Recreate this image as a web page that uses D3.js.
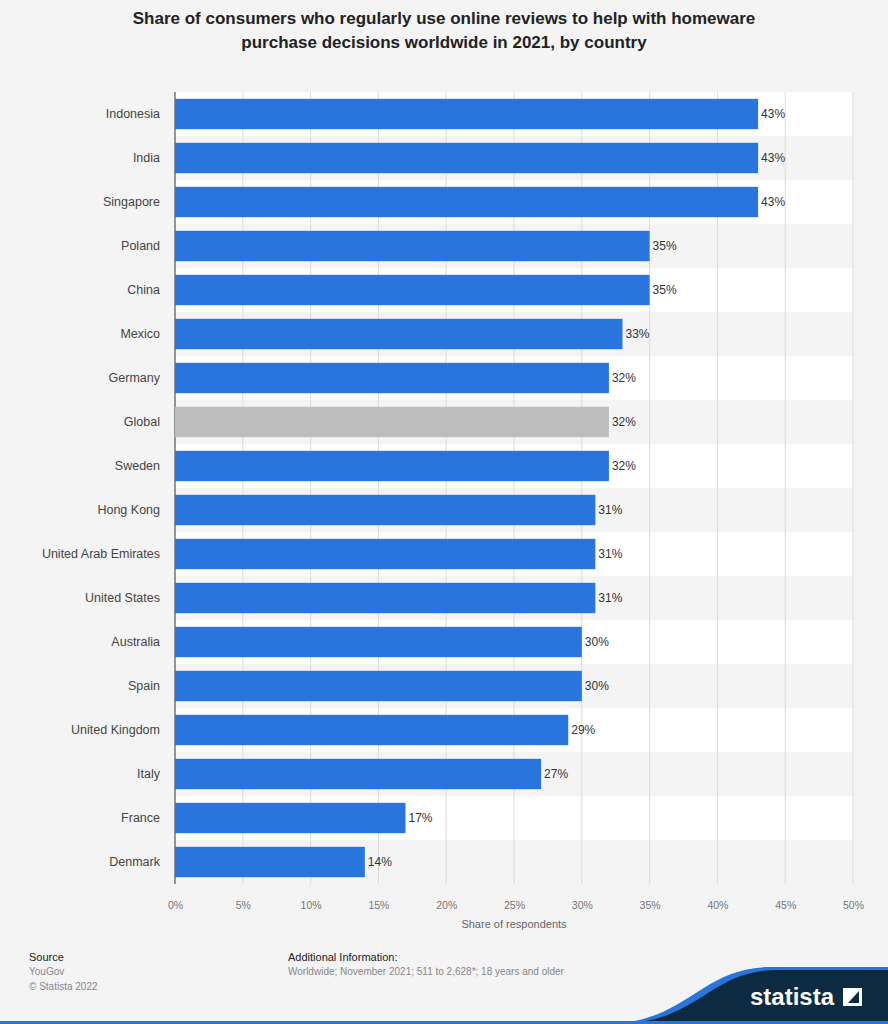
<!DOCTYPE html>
<html><head><meta charset="utf-8">
<script src="https://cdn.jsdelivr.net/npm/d3@7"></script>
<style>body{margin:0;background:#f4f4f4;font-family:"Liberation Sans",Arial,sans-serif}</style>
</head><body>
<script>
var countries = ["Indonesia","India","Singapore","Poland","China","Mexico","Germany","Global","Sweden","Hong Kong","United Arab Emirates","United States","Australia","Spain","United Kingdom","Italy","France","Denmark"];
var shares = [43,43,43,35,35,33,32,32,32,31,31,31,30,30,29,27,17,14];
var ticks = [0,5,10,15,20,25,30,35,40,45,50];

var width = 888, height = 1024;
var plotLeft = 175, plotRight = 853, plotTop = 92, plotBottom = 884;

var svg = d3.select("body").append("svg").attr("width", width).attr("height", height);
svg.append("rect").attr("width", width).attr("height", height).attr("fill", "#f4f4f4");

// title
svg.append("text").attr("x", width/2).attr("y", 24).attr("text-anchor", "middle")
  .attr("font-size", 17).attr("font-weight", "bold").attr("fill", "#222")
  .selectAll("tspan").data(["Share of consumers who regularly use online reviews to help with homeware","purchase decisions worldwide in 2021, by country"])
  .enter().append("tspan").attr("x", width/2).attr("dy", function(d,i){ return i ? 24 : 0; }).text(function(d){ return d; });

var x = d3.scaleLinear().domain([0,50]).range([plotLeft, plotRight]);
var y = d3.scaleBand().domain(countries).range([plotTop, plotBottom]).paddingInner(0.31).paddingOuter(0.155);
var band = d3.scaleBand().domain(countries).range([plotTop, plotBottom]);

// row stripes
svg.selectAll(".row").data(countries).enter().append("rect").attr("class", "row")
  .attr("x", plotLeft).attr("y", function(d){ return band(d); })
  .attr("width", plotRight-plotLeft).attr("height", band.bandwidth())
  .attr("fill", function(d,i){ return i%2 ? "#f4f4f4" : "#ffffff"; });

// grid
svg.selectAll(".grid").data(ticks.slice(1)).enter().append("line").attr("class", "grid")
  .attr("x1", function(d){ return x(d); }).attr("x2", function(d){ return x(d); })
  .attr("y1", plotTop).attr("y2", plotBottom).attr("stroke", "#dcdcdc");

svg.append("line").attr("x1", plotLeft).attr("x2", plotLeft).attr("y1", plotTop).attr("y2", plotBottom).attr("stroke", "#333");

// bars
svg.selectAll(".bar").data(countries).enter().append("rect").attr("class", "bar")
  .attr("x", plotLeft).attr("y", function(d){ return y(d); })
  .attr("width", function(d,i){ return x(shares[i]) - plotLeft; })
  .attr("height", y.bandwidth())
  .attr("fill", function(d){ return d === "Global" ? "#bdbdbd" : "#2876dd"; });

svg.selectAll(".val").data(countries).enter().append("text").attr("class", "val")
  .attr("x", function(d,i){ return x(shares[i]) + 3; })
  .attr("y", function(d){ return y(d) + y.bandwidth()/2 + 4; })
  .attr("font-size", 12).attr("fill", "#333")
  .text(function(d,i){ return shares[i] + "%"; });

svg.selectAll(".cat").data(countries).enter().append("text").attr("class", "cat")
  .attr("x", plotLeft - 15).attr("y", function(d){ return band(d) + band.bandwidth()/2 + 4; })
  .attr("text-anchor", "end").attr("font-size", 12.5).attr("fill", "#444")
  .text(function(d){ return d; });

// x axis
var ax = svg.append("g").attr("transform", "translate(0," + plotBottom + ")")
  .call(d3.axisBottom(x).tickValues(ticks).tickSize(0).tickPadding(18).tickFormat(function(d){ return d + "%"; }));
ax.select(".domain").remove();
ax.selectAll("text").attr("font-size", 10.5).attr("fill", "#777").attr("font-family", "Liberation Sans, Arial");

svg.append("text").attr("x", (plotLeft+plotRight)/2).attr("y", 928).attr("text-anchor", "middle")
  .attr("font-size", 11).attr("fill", "#666").text("Share of respondents");

// footer
svg.append("text").attr("x", 29).attr("y", 961).attr("font-size", 11).attr("fill", "#222").text("Source");
svg.append("text").attr("x", 29).attr("y", 975).attr("font-size", 10).attr("fill", "#888").text("YouGov");
svg.append("text").attr("x", 29).attr("y", 990).attr("font-size", 10).attr("fill", "#888").text("© Statista 2022");
svg.append("text").attr("x", 288).attr("y", 961).attr("font-size", 11).attr("fill", "#222").text("Additional Information:");
svg.append("text").attr("x", 288).attr("y", 975).attr("font-size", 10).attr("fill", "#888").text("Worldwide; November 2021; 511 to 2,628*; 18 years and older");

svg.append("path").attr("d", "M610,1024 C690,1020 700,968 770,967 L888,967 L888,1024 Z").attr("fill", "#2876dd");
svg.append("path").attr("d", "M622,1024 C700,1020 710,971 775,970 L888,970 L888,1024 Z").attr("fill", "#0d2a43");
svg.append("rect").attr("x", 0).attr("y", 1021).attr("width", width).attr("height", 3).attr("fill", "#2876dd");
svg.append("text").attr("x", 750).attr("y", 1005).attr("font-size", 24).attr("font-weight", "bold").attr("fill", "#fff").text("statista");
svg.append("path").attr("d", "M843,988 L862,988 L862,1006 L843,1006 Z M848,1003 L859,991 L859,1003 Z").attr("fill", "#fff").attr("fill-rule", "evenodd");
</script>
</body></html>
